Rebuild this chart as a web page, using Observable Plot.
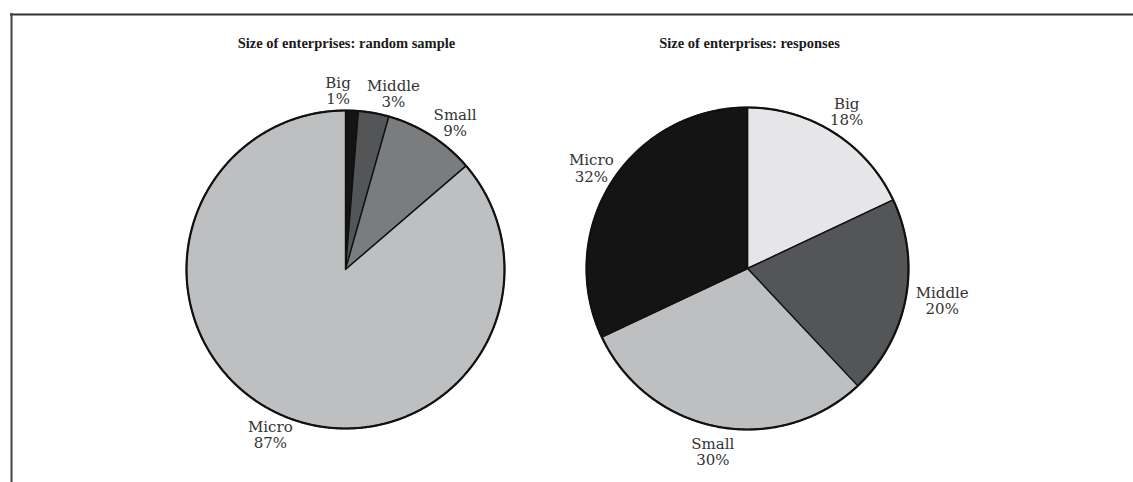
<!DOCTYPE html>
<html>
<head>
<meta charset="utf-8">
<script src="https://cdn.jsdelivr.net/npm/d3@7"></script>
<script src="https://cdn.jsdelivr.net/npm/@observablehq/plot@0.6"></script>
<style>
  html, body { margin: 0; padding: 0; background: #fff; overflow: hidden; }
  #chart svg { display: block; }
</style>
</head>
<body>
<div id="chart"></div>
<script>
// ---- data ----
const categories = ["Big", "Middle", "Small", "Micro"];
const sampleValues = [1.3, 3.1, 9.3, 86.3];
const sampleLabels = ["1%", "3%", "9%", "87%"];
const responseValues = [18, 20, 30, 32];
const responseLabels = ["18%", "20%", "30%", "32%"];
const sampleTitle = "Size of enterprises: random sample";
const responseTitle = "Size of enterprises: responses";

// ---- styles / layout ----
const sampleFills = ["#141414", "#545557", "#7b7c7e", "#bebfc1"];
const responseFills = ["#e6e6e8", "#545557", "#bebfc1", "#141414"];
const W = 1133, H = 482;
const leftPie = {cx: 345, cy: 269, r: 159, labelR: 185,
  nudge: [[-15, 6], [15, 6], [10, 9], [2, -3]]};
const rightPie = {cx: 747, cy: 268, r: 161, labelR: 185,
  nudge: [[0, 0], [13, -2], [0, 2], [0, -1]]};

function pieMarks(values, labels, fills, p) {
  const total = d3.sum(values);
  const marks = [];
  const labelData = [];
  let a0 = 0;
  values.forEach((v, i) => {
    const a1 = a0 + (v / total) * 2 * Math.PI;
    const pts = [{x: p.cx, y: p.cy}];
    const n = Math.max(2, Math.ceil((a1 - a0) / (Math.PI / 360)));
    for (let k = 0; k <= n; k++) {
      const a = a0 + (a1 - a0) * k / n;
      pts.push({x: p.cx + p.r * Math.sin(a), y: p.cy - p.r * Math.cos(a)});
    }
    marks.push(Plot.line(pts, {
      x: "x", y: "y", fill: fills[i], stroke: "#111", strokeWidth: 1.4,
      curve: "linear-closed", strokeLinejoin: "round"
    }));
    const m = (a0 + a1) / 2;
    labelData.push({
      x: p.cx + p.labelR * Math.sin(m) + p.nudge[i][0],
      y: p.cy - p.labelR * Math.cos(m) + p.nudge[i][1],
      text: categories[i] + "\n" + labels[i]
    });
    a0 = a1;
  });
  // outer circle
  const circ = d3.range(0, 721).map(k => {
    const a = k / 720 * 2 * Math.PI;
    return {x: p.cx + p.r * Math.sin(a), y: p.cy - p.r * Math.cos(a)};
  });
  marks.push(Plot.line(circ, {x: "x", y: "y", stroke: "#111", strokeWidth: 2.2}));
  marks.push(Plot.text(labelData, {
    x: "x", y: "y", text: "text", fontSize: 15, fontFamily: "DejaVu Serif",
    fill: "#333", lineHeight: 1.07, textAnchor: "middle"
  }));
  return marks;
}

const chart = Plot.plot({
  width: W,
  height: H,
  margin: 0,
  x: {domain: [0, W], range: [0, W], axis: null},
  y: {domain: [0, H], range: [0, H], axis: null},
  marks: [
    Plot.ruleY([14], {x1: 10, x2: W, stroke: "#333", strokeWidth: 2}),
    Plot.ruleX([11], {y1: 13, y2: H, stroke: "#444", strokeWidth: 2}),
    ...pieMarks(sampleValues, sampleLabels, sampleFills, leftPie),
    ...pieMarks(responseValues, responseLabels, responseFills, rightPie),
    Plot.text([sampleTitle], {x: leftPie.cx + 1, y: 43, text: d => d, fontSize: 14.5,
      fontWeight: "bold", fontFamily: "Liberation Serif", fill: "#1a1a1a"}),
    Plot.text([responseTitle], {x: rightPie.cx + 2, y: 43, text: d => d, fontSize: 14.5,
      fontWeight: "bold", fontFamily: "Liberation Serif", fill: "#1a1a1a"})
  ]
});
document.getElementById("chart").append(chart);
</script>
</body>
</html>
